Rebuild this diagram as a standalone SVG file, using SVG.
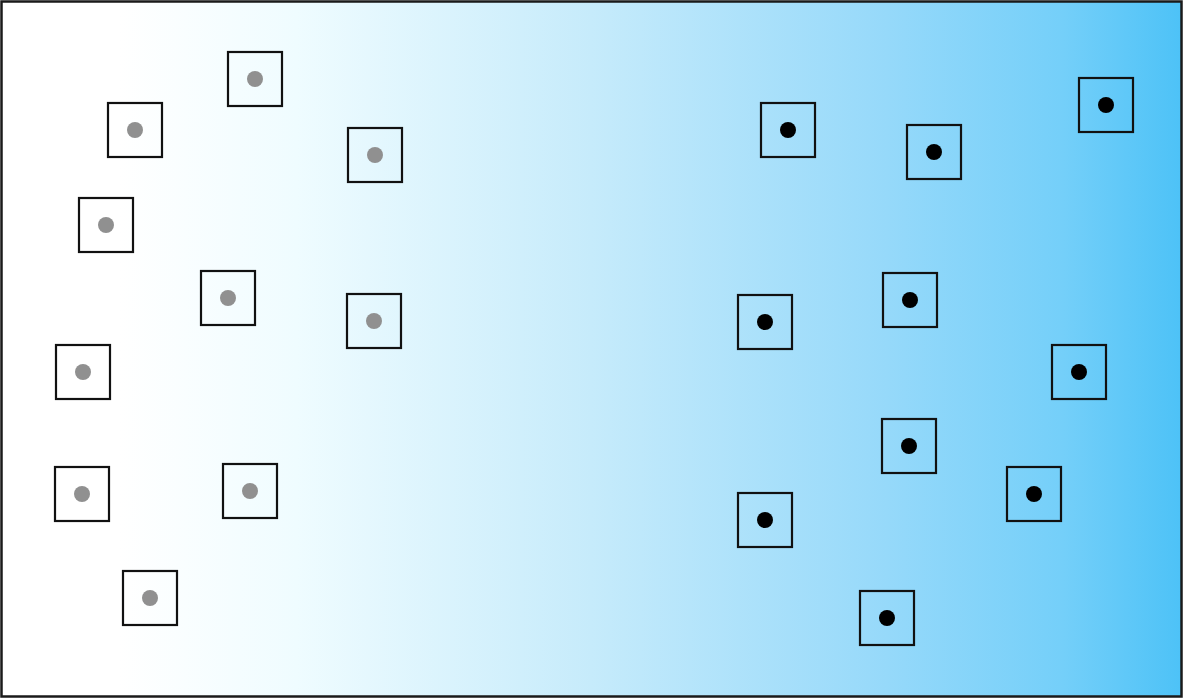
<svg xmlns="http://www.w3.org/2000/svg" width="1184" height="699" viewBox="0 0 1184 699">
<defs>
<linearGradient id="bg" x1="0" y1="0" x2="1" y2="0">
<stop offset="0" stop-color="#ffffff"/>
<stop offset="0.1" stop-color="#ffffff"/>
<stop offset="0.25" stop-color="#effcff"/>
<stop offset="0.5" stop-color="#c6ebfb"/>
<stop offset="0.75" stop-color="#96d9fa"/>
<stop offset="0.9" stop-color="#74cff9"/>
<stop offset="1" stop-color="#4dc2f7"/>
</linearGradient>
<style>
.b{fill:none;stroke:#111;stroke-width:2.2}
.g{fill:#909090}
.k{fill:#000}
</style>
<g id="sq"><rect class="b" x="-27" y="-27" width="54" height="54"/></g>
</defs>
<rect x="1.5" y="1.5" width="1180" height="695" fill="url(#bg)" stroke="#1a1a1a" stroke-width="2.5"/>
<g id="gray-nodes">
<g id="g1" transform="translate(255,79)"><use href="#sq"/><circle class="g" r="8"/></g>
<g id="g2" transform="translate(135,130)"><use href="#sq"/><circle class="g" r="8"/></g>
<g id="g3" transform="translate(375,155)"><use href="#sq"/><circle class="g" r="8"/></g>
<g id="g4" transform="translate(106,225)"><use href="#sq"/><circle class="g" r="8"/></g>
<g id="g5" transform="translate(228,298)"><use href="#sq"/><circle class="g" r="8"/></g>
<g id="g6" transform="translate(374,321)"><use href="#sq"/><circle class="g" r="8"/></g>
<g id="g7" transform="translate(83,372)"><use href="#sq"/><circle class="g" r="8"/></g>
<g id="g8" transform="translate(82,494)"><use href="#sq"/><circle class="g" r="8"/></g>
<g id="g9" transform="translate(250,491)"><use href="#sq"/><circle class="g" r="8"/></g>
<g id="g10" transform="translate(150,598)"><use href="#sq"/><circle class="g" r="8"/></g>
</g>
<g id="black-nodes">
<g id="k1" transform="translate(788,130)"><use href="#sq"/><circle class="k" r="8"/></g>
<g id="k2" transform="translate(934,152)"><use href="#sq"/><circle class="k" r="8"/></g>
<g id="k3" transform="translate(1106,105)"><use href="#sq"/><circle class="k" r="8"/></g>
<g id="k4" transform="translate(910,300)"><use href="#sq"/><circle class="k" r="8"/></g>
<g id="k5" transform="translate(765,322)"><use href="#sq"/><circle class="k" r="8"/></g>
<g id="k6" transform="translate(1079,372)"><use href="#sq"/><circle class="k" r="8"/></g>
<g id="k7" transform="translate(909,446)"><use href="#sq"/><circle class="k" r="8"/></g>
<g id="k8" transform="translate(1034,494)"><use href="#sq"/><circle class="k" r="8"/></g>
<g id="k9" transform="translate(765,520)"><use href="#sq"/><circle class="k" r="8"/></g>
<g id="k10" transform="translate(887,618)"><use href="#sq"/><circle class="k" r="8"/></g>
</g>
<g id="connectors"/>
</svg>
